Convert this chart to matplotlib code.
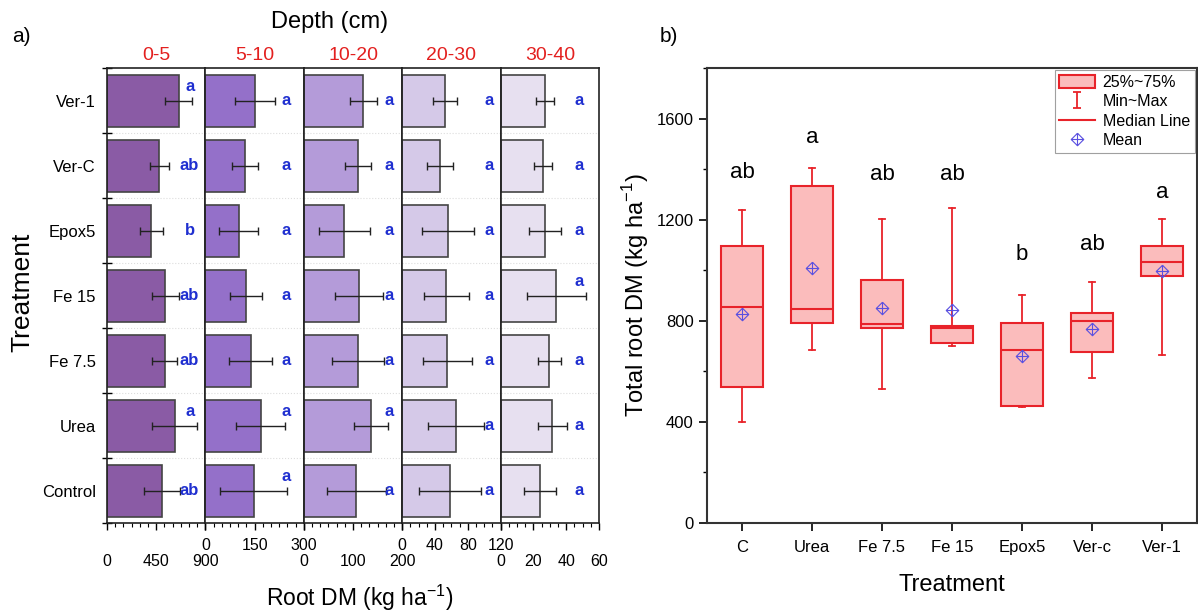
import numpy as np
import matplotlib
matplotlib.use('Agg')
import matplotlib.pyplot as plt
from matplotlib.path import Path
from matplotlib.lines import Line2D
from matplotlib.patches import Patch
from matplotlib.ticker import MultipleLocator

plt.rcParams['font.family'] = ['Liberation Sans', 'DejaVu Sans']

# ---- panel a data (top to bottom) ----
treat_a = ['Ver-1', 'Ver-C', 'Epox5', 'Fe 15', 'Fe 7.5', 'Urea', 'Control']
depths = ['0-5', '5-10', '10-20', '20-30', '30-40']

m_0_5 = [655, 480, 406, 533, 530, 620, 500]
e_0_5 = [125, 88, 106, 121, 114, 205, 165]
m_5_10 = [151, 120, 101, 124, 138, 168, 148]
e_5_10 = [60, 40, 60, 48, 65, 74, 102]
m_10_20 = [121, 110, 82, 112, 110, 137, 107]
e_10_20 = [28, 26, 52, 48, 53, 35, 60]
m_20_30 = [52, 46, 56, 54, 55, 66, 58]
e_20_30 = [15, 16, 32, 27, 30, 34, 38]
m_30_40 = [27, 25.7, 27, 34, 29.6, 31.5, 24]
e_30_40 = [5.5, 5.5, 9.6, 18, 7, 8.7, 10]

let_0_5 = ['a', 'ab', 'b', 'ab', 'ab', 'a', 'ab']
let_other = ['a', 'a', 'a', 'a', 'a', 'a', 'a']

xmax = [900, 300, 200, 120, 60]
xmajor = [450, 150, 100, 40, 20]
xminor = [75, 25, 100 / 6, 10, 5]

# ---- panel b data ----
treat_b = ['C', 'Urea', 'Fe 7.5', 'Fe 15', 'Epox5', 'Ver-c', 'Ver-1']
b_max = [1240, 1405, 1203, 1246, 903, 953, 1204]
b_q3 = [1097, 1332, 962, 781, 791, 829, 1097]
b_med = [855, 846, 787, 771, 685, 801, 1031]
b_q1 = [539, 791, 771, 714, 463, 678, 978]
b_min = [400, 685, 529, 701, 459, 573, 663]
b_mean = [826, 1010, 850, 842, 661, 767, 995]
let_b = ['ab', 'a', 'ab', 'ab', 'b', 'ab', 'a']
let_b_y = [1385, 1525, 1378, 1378, 1061, 1100, 1307]

means = [m_0_5, m_5_10, m_10_20, m_20_30, m_30_40]
errs = [e_0_5, e_5_10, e_10_20, e_20_30, e_30_40]
letters = [let_0_5, let_other, let_other, let_other, let_other]
bar_colors = ['#8a5ba5', '#9470c9', '#b49bd9', '#d5c9e8', '#e7e0f0']
col_frac = [0.84, 0.82, 0.87, 0.88, 0.80]

W, H = 1198, 615
fig = plt.figure(figsize=(W / 100, H / 100), dpi=100)

pw = 98.4
bottom = 1 - 523 / H
height = (523 - 68) / H
y = np.arange(len(treat_a))

for i in range(5):
    ax = fig.add_axes([(107 + i * pw) / W, bottom, pw / W, height])
    ax.barh(y, means[i], height=0.8, color=bar_colors[i], edgecolor='#444444', linewidth=1.2, zorder=2)
    ax.errorbar(means[i], y, xerr=errs[i], fmt='none', ecolor='#222222', elinewidth=1,
                capsize=3, capthick=1, zorder=3)
    ax.set_xlim(0, xmax[i])
    ax.set_ylim(6.5, -0.5)
    for b in np.arange(0.5, 6, 1):
        ax.axhline(b, color='#dddddd', ls=':', lw=0.8, zorder=1)
    # significance letters: fixed column, lifted when the error bar reaches it
    col = col_frac[i] * xmax[i]
    for j in range(len(y)):
        hi = means[i][j] + errs[i][j]
        yy = y[j]
        if hi > col - 0.03 * xmax[i]:
            yy = y[j] - 0.22
        ax.text(col, yy, letters[i][j], color='#1f2fd0', fontsize=12, fontweight='bold',
                ha='center', va='center', zorder=4)
    ax.set_title(depths[i], color='#e3201f', fontsize=14, pad=6)
    ax.xaxis.set_major_locator(MultipleLocator(xmajor[i]))
    ax.xaxis.set_minor_locator(MultipleLocator(xminor[i]))
    pad = 6 if i % 2 == 1 else 17
    ax.tick_params(axis='x', which='major', length=5, width=1, pad=pad, labelsize=11.5)
    ax.tick_params(axis='x', which='minor', length=3, width=0.8)
    for s in ax.spines.values():
        s.set_linewidth(1.2)
        s.set_color('#222222')
    if i == 0:
        ax.set_yticks(np.arange(-0.5, 7, 1))
        ax.set_yticklabels([])
        ax.set_yticks(y, labels=treat_a, minor=True)
        ax.tick_params(axis='y', which='major', direction='inout', length=7, width=1)
        ax.tick_params(axis='y', which='minor', length=0, pad=8, labelsize=12)
    else:
        ax.set_yticks([])

fig.text(12 / W, 1 - 37 / H, 'a)', fontsize=15, va='center')
fig.text(330 / W, 1 - 22 / H, 'Depth (cm)', fontsize=17, ha='center', va='center')
fig.text(22 / W, 1 - 292 / H, 'Treatment', fontsize=19, rotation=90, ha='center', va='center')
fig.text(360 / W, 1 - 598 / H, 'Root DM (kg ha$^{\\mathregular{-1}}$)', fontsize=16.5,
         ha='center', va='center')

# ---- panel b ----
axb = fig.add_axes([707 / W, bottom, (1197 - 707) / W, height])
stats = []
for k in range(len(treat_b)):
    stats.append(dict(med=b_med[k], q1=b_q1[k], q3=b_q3[k], whislo=b_min[k],
                      whishi=b_max[k], mean=b_mean[k], fliers=[]))

mean_path = Path([(0, 1), (1, 0), (0, -1), (-1, 0), (0, 1), (0, 1), (0, -1), (-1, 0), (1, 0)],
                 [Path.MOVETO, Path.LINETO, Path.LINETO, Path.LINETO, Path.LINETO,
                  Path.MOVETO, Path.LINETO, Path.MOVETO, Path.LINETO])
red = '#e8232a'
pink = '#fbbcbc'
blue = '#5a50e0'
axb.bxp(stats, positions=np.arange(1, 8), widths=0.6, patch_artist=True, showmeans=True,
        capwidths=0.08,
        boxprops=dict(facecolor=pink, edgecolor=red, linewidth=1.5),
        whiskerprops=dict(color=red, linewidth=1.3),
        capprops=dict(color=red, linewidth=1.3),
        medianprops=dict(color=red, linewidth=1.5),
        meanprops=dict(marker=mean_path, markerfacecolor='none', markeredgecolor=blue,
                       markersize=9, markeredgewidth=0.8))
for k in range(len(treat_b)):
    axb.text(k + 1, let_b_y[k], let_b[k], fontsize=16, ha='center', va='center')

axb.set_xlim(0.5, 7.5)
axb.set_ylim(0, 1800)
axb.set_xticks(np.arange(1, 8), labels=treat_b)
axb.yaxis.set_major_locator(MultipleLocator(400))
axb.yaxis.set_minor_locator(MultipleLocator(200))
axb.set_yticks([0, 400, 800, 1200, 1600])
axb.tick_params(axis='both', which='major', length=6, width=1.2, labelsize=12)
axb.tick_params(axis='x', pad=6)
axb.tick_params(axis='y', which='minor', length=3, width=1)
for s in axb.spines.values():
    s.set_linewidth(1.5)
    s.set_color('#333333')
axb.set_ylabel('Total root DM (kg ha$^{\\mathregular{-1}}$)', fontsize=17, labelpad=4)
axb.set_xlabel('Treatment', fontsize=17, labelpad=14)

ibeam = Path([(-0.5, 1), (0.5, 1), (0, 1), (0, -1), (-0.5, -1), (0.5, -1)],
             [Path.MOVETO, Path.LINETO, Path.MOVETO, Path.LINETO, Path.MOVETO, Path.LINETO])
handles = [
    Patch(facecolor=pink, edgecolor=red, linewidth=1.5),
    Line2D([], [], color=red, marker=ibeam, linestyle='none', markersize=12,
           markerfacecolor='none', markeredgewidth=1.3),
    Line2D([], [], color=red, linewidth=1.5),
    Line2D([], [], color=blue, marker=mean_path, linestyle='none', markersize=9,
           markerfacecolor='none', markeredgewidth=0.8),
]
leg = axb.legend(handles, ['25%~75%', 'Min~Max', 'Median Line', 'Mean'], loc='upper right',
                 fontsize=11.5, frameon=True, fancybox=False, borderaxespad=0.15,
                 handlelength=2.2, handleheight=0.9, handletextpad=0.5, labelspacing=0.25,
                 borderpad=0.3)
leg.get_frame().set_edgecolor('#888888')
leg.get_frame().set_linewidth(0.8)

fig.text(660 / W, 1 - 37 / H, 'b)', fontsize=15, va='center')

fig.savefig('out.png', dpi=100)
